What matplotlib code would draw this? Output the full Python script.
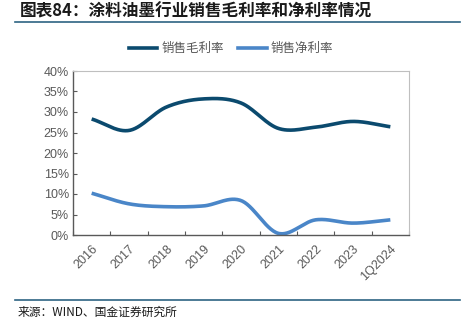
import numpy as np
import matplotlib
matplotlib.use("Agg")
import matplotlib.pyplot as plt
from matplotlib.lines import Line2D

plt.rcParams['font.family'] = ['Liberation Sans', 'Noto Sans CJK SC', 'DejaVu Sans']

categories = ["2016", "2017", "2018", "2019", "2020", "2021", "2022", "2023", "1Q2024"]
gross_margin = [28.3, 25.5, 31.2, 33.2, 32.2, 26.0, 26.3, 27.7, 26.4]
net_margin = [10.2, 7.6, 6.9, 7.1, 8.4, 0.4, 3.7, 2.9, 3.7]
y_ticks = [0, 5, 10, 15, 20, 25, 30, 35, 40]
series_names = ["销售毛利率", "销售净利率"]
colors = ["#0B4A6E", "#4A86C8"]


def smooth(x, y, n=30):
    # Catmull-Rom style smoothing for display (like Excel smoothed lines)
    x = np.asarray(x, float); y = np.asarray(y, float)
    px = np.concatenate([[2*x[0]-x[1]], x, [2*x[-1]-x[-2]]])
    py = np.concatenate([[2*y[0]-y[1]], y, [2*y[-1]-y[-2]]])
    xs, ys = [], []
    for i in range(1, len(px)-2):
        t = np.linspace(0, 1, n, endpoint=False)
        for arr, out in ((px, xs), (py, ys)):
            p0, p1, p2, p3 = arr[i-1], arr[i], arr[i+1], arr[i+2]
            out.extend(0.5*((2*p1) + (-p0+p2)*t + (2*p0-5*p1+4*p2-p3)*t**2 + (-p0+3*p1-3*p2+p3)*t**3))
    xs.append(x[-1]); ys.append(y[-1])
    return np.array(xs), np.array(ys)


fig = plt.figure(figsize=(4.65, 3.29), dpi=100)
ax = fig.add_axes([73/465, 1-235/329, (409-73)/465, (235-71)/329])

x = np.arange(len(categories))
for vals, c, name in zip([gross_margin, net_margin], colors, series_names):
    sx, sy = smooth(x, vals)
    ax.plot(sx, sy, color=c, lw=2.6, solid_capstyle='butt', label=name)

ax.set_xlim(-0.5, len(categories)-0.5)
ax.set_ylim(0, 40)
ax.set_yticks(y_ticks)
ax.set_yticklabels([f"{v}%" for v in y_ticks], fontsize=9, color="#595959")
ax.set_xticks(np.arange(len(categories)+1)-0.5, minor=False)
ax.set_xticklabels([])
ax.set_xticks(x, minor=True)
ax.set_xticklabels(categories, minor=True, rotation=45, ha='right', rotation_mode='anchor',
                   fontsize=9, color="#595959")
ax.tick_params(axis='x', which='minor', length=0, pad=6)
ax.tick_params(axis='x', which='major', direction='in', length=3, color="#595959")
ax.tick_params(axis='y', direction='in', length=3, color="#595959", pad=3)
for s in ['left', 'bottom']:
    ax.spines[s].set_color("#595959")
    ax.spines[s].set_linewidth(1.0)
for s in ['top', 'right']:
    ax.spines[s].set_color("#BFBFBF")
    ax.spines[s].set_linewidth(0.8)

handles = [Line2D([0], [0], color=c, lw=2.6) for c in colors]
leg = fig.legend(handles, series_names, loc='center', bbox_to_anchor=(231/465, 1-49/329), ncol=2,
                 frameon=False, fontsize=9, handlelength=2.3, handletextpad=0.35, columnspacing=1.1,
                 borderpad=0, borderaxespad=0)
for t in leg.get_texts():
    t.set_color("#595959")

fig.text(20/465, 1-12/329, "图表84：涂料油墨行业销售毛利率和净利率情况", fontsize=12, fontweight='bold',
         fontstyle='italic', color="#1a1a1a", va='center', ha='left',
         family=['Noto Sans CJK SC', 'DejaVu Sans'])
fig.add_artist(Line2D([15/465, 460/465], [1-21.5/329, 1-21.5/329], color="#2E6483", lw=1.2))
fig.add_artist(Line2D([15/465, 460/465], [1-299.5/329, 1-299.5/329], color="#2E6483", lw=1.2))
fig.text(18/465, 1-312/329, "来源：WIND、国金证券研究所", fontsize=8.5, color="#1a1a1a", va='center', ha='left',
         family=['Noto Sans CJK SC', 'DejaVu Sans'])

fig.savefig("out.png", dpi=100)
